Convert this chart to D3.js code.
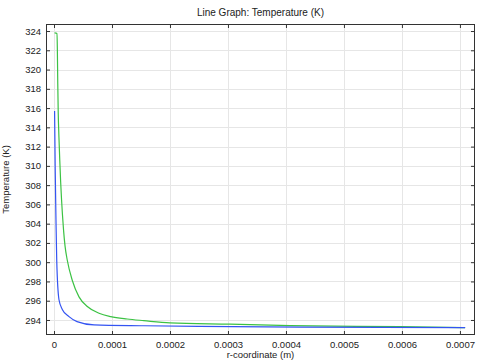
<!DOCTYPE html>
<html>
<head>
    <title>Line Graph: Temperature (K)</title>
    <script src="https://d3js.org/d3.v7.min.js"></script>
    <style>
        body { margin: 0; background: #fff; }
        text { font-family: "Liberation Sans", Arial, sans-serif; fill: #222; }
        .grid line { stroke: #e6e6e6; stroke-width: 1; }
        .tick-label { font-size: 9.5px; }
    </style>
</head>
<body>
<script>
    var width = 482, height = 363;

    // readings
    var rGreen = [0.000001, 0.0000052, 0.0000058, 0.0000065, 0.0000073, 0.0000085, 0.00001, 0.0000115, 0.000013, 0.0000145,
                  0.0000165, 0.000019, 0.0000229, 0.0000316, 0.0000431, 0.0000574, 0.0000776, 0.0000978, 0.000126, 0.000155,
                  0.0002, 0.000303, 0.000407, 0.000597, 0.000709];
    var tGreen = [323.8, 323.74, 322, 318.5, 315.5, 313, 310.5, 308.3, 306.5, 305.0,
                  303.3, 301.7, 300.2, 298.1, 296.4, 295.4, 294.7, 294.35, 294.1, 293.93,
                  293.7, 293.56, 293.41, 293.3, 293.2];
    var rBlue = [0.000001, 0.000002, 0.0000034, 0.0000047, 0.0000086, 0.0000143, 0.0000259, 0.0000397, 0.000069,
                 0.000155, 0.00025, 0.000424, 0.000709];
    var tBlue = [315.7, 310, 304.4, 300.2, 296.1, 295.1, 294.35, 293.83, 293.49,
                 293.4, 293.33, 293.26, 293.2];
    var xTicks = [0, 0.0001, 0.0002, 0.0003, 0.0004, 0.0005, 0.0006, 0.0007];
    var yTicks = d3.range(294, 325, 2);

    var pLeft = 46, pRight = 475, pTop = 24, pBottom = 335;

    var svg = d3.select("body").append("svg")
        .attr("width", width)
        .attr("height", height);

    var x = d3.scaleLinear().domain([-0.0000138, 0.000726]).range([pLeft, pRight]);
    var y = d3.scaleLinear().domain([292.44, 324.73]).range([pBottom, pTop]);

    // grid
    var grid = svg.append("g").attr("class", "grid");
    grid.selectAll(".gx").data(xTicks).enter().append("line")
        .attr("x1", function(d) { return Math.round(x(d)) + 0.5; })
        .attr("x2", function(d) { return Math.round(x(d)) + 0.5; })
        .attr("y1", pTop).attr("y2", pBottom);
    grid.selectAll(".gy").data(yTicks).enter().append("line")
        .attr("y1", function(d) { return Math.round(y(d)) + 0.5; })
        .attr("y2", function(d) { return Math.round(y(d)) + 0.5; })
        .attr("x1", pLeft).attr("x2", pRight);

    // lines
    var line = d3.line()
        .x(function(d) { return x(d[0]); })
        .y(function(d) { return y(d[1]); })
        .curve(d3.curveMonotoneX);

    svg.append("path")
        .datum(d3.zip(rGreen, tGreen))
        .attr("fill", "none")
        .attr("stroke", "#3cc244")
        .attr("stroke-width", 1.2)
        .attr("d", line);

    svg.append("path")
        .datum(d3.zip(rBlue, tBlue))
        .attr("fill", "none")
        .attr("stroke", "#3454f2")
        .attr("stroke-width", 1.2)
        .attr("d", line);

    // axes, ticks inward on all four sides
    var fmtX = function(d) { return d === 0 ? "0" : d3.format(".4f")(d); };
    svg.append("g").attr("transform", "translate(0," + pBottom + ")")
        .call(d3.axisBottom(x).tickValues(xTicks).tickSizeInner(-4).tickSizeOuter(0).tickPadding(6).tickFormat(fmtX));
    svg.append("g").attr("transform", "translate(0," + pTop + ")")
        .call(d3.axisTop(x).tickValues(xTicks).tickSizeInner(-4).tickSizeOuter(0).tickFormat(""));
    svg.append("g").attr("transform", "translate(" + pLeft + ",0)")
        .call(d3.axisLeft(y).tickValues(yTicks).tickSizeInner(-4).tickSizeOuter(0).tickPadding(5).tickFormat(d3.format("d")));
    svg.append("g").attr("transform", "translate(" + pRight + ",0)")
        .call(d3.axisRight(y).tickValues(yTicks).tickSizeInner(-4).tickSizeOuter(0).tickFormat(""));

    svg.selectAll(".domain").remove();
    svg.selectAll(".tick line").attr("stroke", "#333");
    svg.selectAll(".tick text").attr("class", "tick-label").attr("font-family", null).attr("font-size", null).attr("fill", null);

    svg.append("rect")
        .attr("x", pLeft + 0.5).attr("y", pTop + 0.5)
        .attr("width", pRight - pLeft - 1).attr("height", pBottom - pTop - 1)
        .attr("fill", "none").attr("stroke", "#333").attr("stroke-width", 1);

    svg.append("text")
        .attr("x", (pLeft + pRight) / 2).attr("y", 16)
        .attr("text-anchor", "middle").attr("font-size", "10px")
        .text("Line Graph: Temperature (K)");

    svg.append("text")
        .attr("x", (pLeft + pRight) / 2).attr("y", 358)
        .attr("text-anchor", "middle").attr("font-size", "9.5px")
        .text("r-coordinate (m)");

    svg.append("text")
        .attr("transform", "translate(9," + (pTop + pBottom) / 2 + ") rotate(-90)")
        .attr("text-anchor", "middle").attr("font-size", "9.5px")
        .text("Temperature (K)");
</script>
</body>
</html>
